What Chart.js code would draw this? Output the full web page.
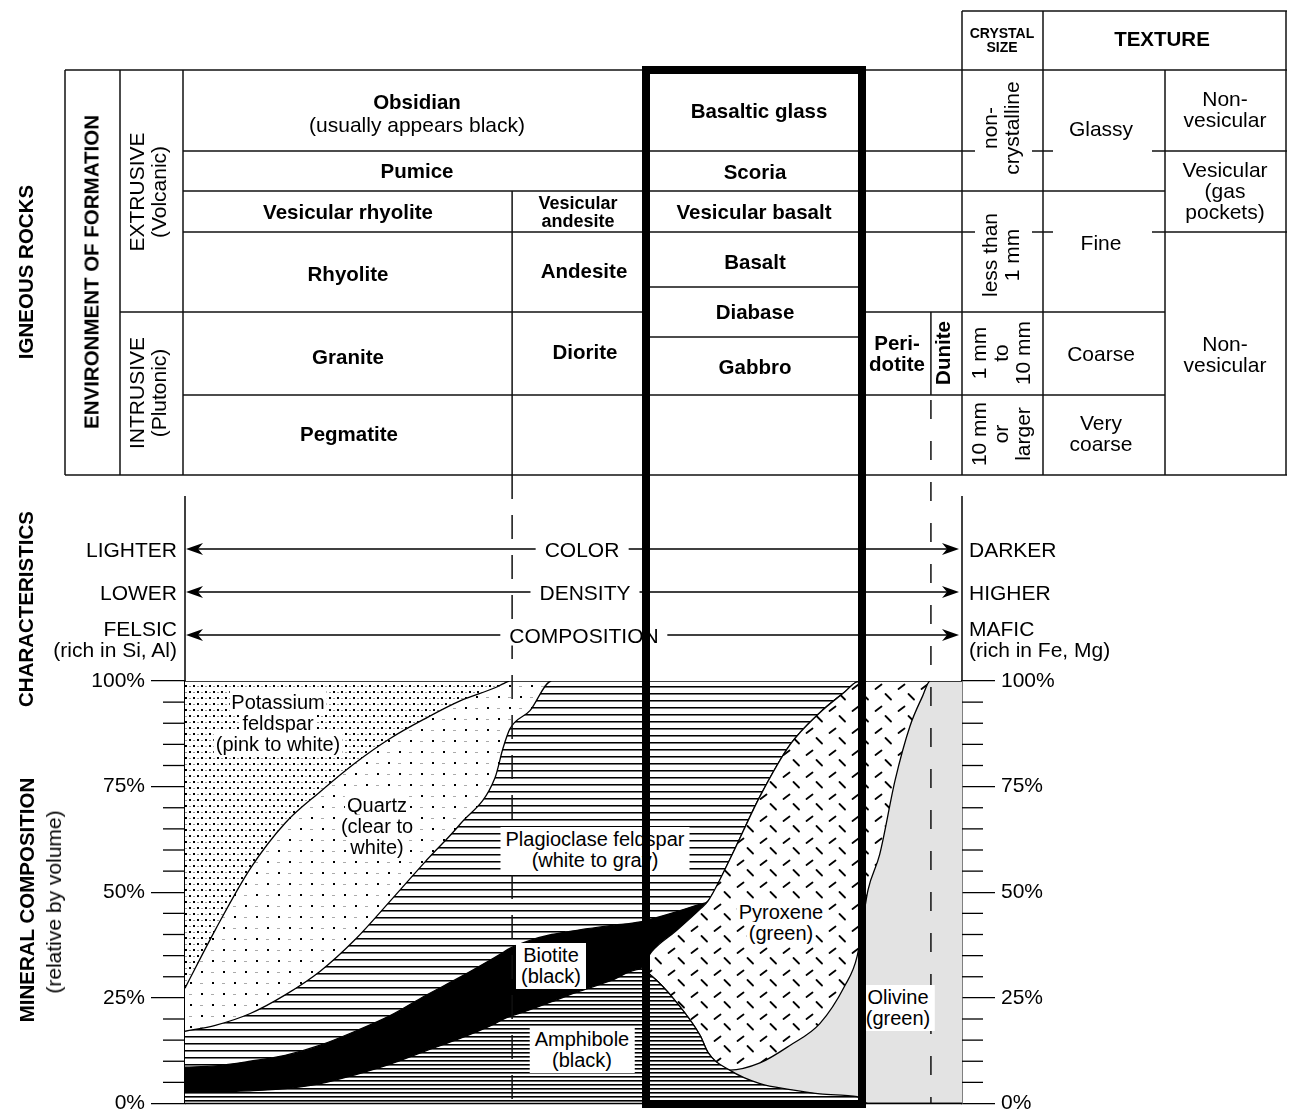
<!DOCTYPE html>
<html>
<head>
<meta charset="utf-8">
<title>Scheme for Igneous Rock Identification</title>
<script src="https://cdn.jsdelivr.net/npm/chart.js@4.4.1/dist/chart.umd.min.js"></script>
<style>
  body { margin: 0; background: #fff; }
  #wrap { position: relative; width: 1291px; height: 1120px; overflow: hidden;
          font-family: "Liberation Sans", Arial, Helvetica, sans-serif; color: #000; }
  #chart { position: absolute; left: 0; top: 0; }
  #box { position: absolute; border: 8px solid #000; box-sizing: border-box; z-index: 5; }
  .lbl { position: absolute; white-space: nowrap; text-align: center; font-size: 21px; line-height: 21px;
         transform: translate(-50%, -50%); }
  .b { font-weight: bold; font-size: 20.5px; }
  .bs { font-weight: bold; font-size: 18px; line-height: 18px; }
  .xs { font-weight: bold; font-size: 14px; line-height: 14px; }
  .bv { font-weight: bold; font-size: 20.5px; transform: translate(-50%, -50%) rotate(-90deg); }
  .nv { line-height: 22px; transform: translate(-50%, -50%) rotate(-90deg); }
  .right { text-align: right; line-height: 21px; transform: translate(-100%, -50%); }
  .left { text-align: left; line-height: 21px; transform: translate(0, -50%); }
  .gap { background: #fff; padding: 0 9px; }
  .halo { font-size: 20px; }
  .halo span { background: #fff; padding: 0 2px; }
  .box { background: #fff; padding: 2px 5px; font-size: 20px; }
</style>
</head>
<body>
<div id="wrap">
  <canvas id="chart" width="1291" height="1120"></canvas>
  <div id="box"></div>
</div>
<script>
// position along the felsic -> mafic scale (0 = left edge, 100 = right edge)
const composition = [0, 3.9, 8.4, 12.9, 17.4, 21.9, 26.4, 30.9, 35.4, 39.9, 40.9, 41.8, 44.4, 47.2,
  50.8, 54.7, 58.6, 60.1, 63.1, 66.3, 67.3, 70.1, 74.0, 77.9, 81.7, 84.9, 86.5, 87.9, 89.4, 91.4,
  93.3, 94.9, 95.9, 100];

// % by volume of each mineral, stacked bottom to top
const amphibole = [2.8, 2.8, 3.0, 3.5, 4.7, 6.8, 9.3, 12.4, 15.4, 18.9, 19.9, 20.6, 22.2, 24.1,
  26.6, 29.0, 31.8, 30.1, 24.3, 16.1, 12.1, 7.9, 4.7, 3.3, 2.3, 1.9, 1.6, 0, 0, 0, 0, 0, 0, 0];
const olivine = [0, 0, 0, 0, 0, 0, 0, 0, 0, 0, 0, 0, 0, 0, 0, 0, 0, 0, 0, 0, 0, 0,
  4.9, 10.5, 16.6, 25.9, 33.2, 50.5, 58.9, 76.6, 89.3, 96.3, 100, 100];
const pyroxene = [0, 0, 0, 0, 0, 0, 0, 0, 0, 0, 0, 0, 0, 0, 0, 0, 0,
  5.9, 16.4, 29.9, 35.8, 49.8, 63.1, 71.2, 73.6, 69.6, 65.0, 49.5, 41.1, 23.4, 10.7, 3.7, 0, 0];
const biotite = [5.8, 6.1, 7.0, 7.9, 9.1, 10.3, 11.5, 13.1, 14.5, 15.7, 15.8, 16.1, 16.4, 15.9,
  14.5, 13.1, 11.2, 7.7, 4.6, 1.2, 0, 0, 0, 0, 0, 0, 0, 0, 0, 0, 0, 0, 0, 0];
const plagioclase = [8.5, 9.6, 11.3, 14.3, 17.5, 21.7, 27.1, 31.7, 36.2, 42.5, 48.2, 51.9, 54.4,
  60.0, 58.9, 57.9, 57.0, 56.3, 54.7, 52.8, 52.1, 42.3, 27.3, 15.0, 7.5, 2.6, 0.2, 0, 0, 0, 0, 0, 0, 0];
const quartz = [10.2, 22.6, 34.3, 40.7, 42.5, 41.8, 38.5, 33.9, 29.2, 21.3, 15.4, 11.4, 7.0,
  0, 0, 0, 0, 0, 0, 0, 0, 0, 0, 0, 0, 0, 0, 0, 0, 0, 0, 0, 0, 0];
const potassiumFeldspar = [72.7, 58.9, 44.4, 33.6, 26.2, 19.4, 13.6, 8.9, 4.7, 1.6, 0.7,
  0, 0, 0, 0, 0, 0, 0, 0, 0, 0, 0, 0, 0, 0, 0, 0, 0, 0, 0, 0, 0, 0, 0];

const majorTicks = [0, 25, 50, 75, 100];
const minorTicks = [5, 10, 15, 20, 30, 35, 40, 45, 55, 60, 65, 70, 80, 85, 90, 95];

// rock column edges on the composition scale
const rockDividers = [42.1, 96.0];          // rhyolite|andesite, peridotite|dunite
const basaltColumn = [59.3, 87.1];          // outlined basalt / gabbro column

const tableLabels = [
  ['Obsidian', 417, 101, 'b'],
  ['(usually appears black)', 417, 124, ''],
  ['Pumice', 417, 170, 'b'],
  ['Vesicular rhyolite', 348, 211, 'b'],
  ['Vesicular\nandesite', 578, 212, 'bs'],
  ['Rhyolite', 348, 273, 'b'],
  ['Andesite', 584, 270, 'b'],
  ['Granite', 348, 356, 'b'],
  ['Diorite', 585, 351, 'b'],
  ['Pegmatite', 349, 433, 'b'],
  ['Basaltic glass', 759, 110, 'b'],
  ['Scoria', 755, 171, 'b'],
  ['Vesicular basalt', 754, 211, 'b'],
  ['Basalt', 755, 261, 'b'],
  ['Diabase', 755, 311, 'b'],
  ['Gabbro', 755, 366, 'b'],
  ['Peri-\ndotite', 897, 353, 'b'],
  ['Dunite', 942, 353, 'bv'],
  ['CRYSTAL\nSIZE', 1002, 40, 'xs'],
  ['TEXTURE', 1162, 38, 'b'],
  ['non-\ncrystalline', 1001, 128, 'nv'],
  ['less than\n1 mm', 1001, 255, 'nv'],
  ['1 mm\nto\n10 mm', 1001, 353, 'nv'],
  ['10 mm\nor\nlarger', 1001, 434, 'nv'],
  ['Glassy', 1101, 128, ''],
  ['Fine', 1101, 242, ''],
  ['Coarse', 1101, 353, ''],
  ['Very\ncoarse', 1101, 433, ''],
  ['Non-\nvesicular', 1225, 109, ''],
  ['Vesicular\n(gas\npockets)', 1225, 190, ''],
  ['Non-\nvesicular', 1225, 354, '']
];
const sideLabels = [
  ['IGNEOUS ROCKS', 25, 272, 'bv'],
  ['ENVIRONMENT OF FORMATION', 91, 272, 'bv'],
  ['EXTRUSIVE\n(Volcanic)', 148, 192, 'nv'],
  ['INTRUSIVE\n(Plutonic)', 148, 393, 'nv'],
  ['CHARACTERISTICS', 25, 609, 'bv'],
  ['MINERAL COMPOSITION', 26, 900, 'bv'],
  ['(relative by volume)', 54, 902, 'nv']
];
const characteristicLabels = [
  ['LIGHTER', 177, 549, 'right'],
  ['LOWER', 177, 592, 'right'],
  ['FELSIC\n(rich in Si, Al)', 177, 639, 'right'],
  ['DARKER', 969, 549, 'left'],
  ['HIGHER', 969, 592, 'left'],
  ['MAFIC\n(rich in Fe, Mg)', 969, 639, 'left'],
  ['COLOR', 582, 549, 'gap'],
  ['DENSITY', 585, 592, 'gap'],
  ['COMPOSITION', 584, 635, 'gap']
];
const mineralLabels = [
  ['Potassium\nfeldspar\n(pink to white)', 278, 723, 'halo'],
  ['Quartz\n(clear to\nwhite)', 377, 826, 'halo'],
  ['Plagioclase feldspar\n(white to gray)', 595, 850, 'box'],
  ['Biotite\n(black)', 551, 966, 'box'],
  ['Amphibole\n(black)', 582, 1050, 'box'],
  ['Pyroxene\n(green)', 781, 923, 'halo'],
  ['Olivine\n(green)', 898, 1008, 'box']
];
const arrowRows = [549, 592, 635];

const canvas = document.getElementById('chart');
const ctx = canvas.getContext('2d');

function makePattern(w, h, paint) {
  const c = document.createElement('canvas');
  c.width = w;
  c.height = h;
  const g = c.getContext('2d');
  g.fillStyle = '#fff';
  g.fillRect(0, 0, w, h);
  paint(g);
  return ctx.createPattern(c, 'repeat');
}

const feldsparFill = makePattern(8, 12, g => {
  g.fillStyle = '#000';
  g.fillRect(1, 1, 2, 2);
  g.fillRect(5, 7, 2, 2);
  g.fillStyle = '#999';
  g.fillRect(5, 2, 2, 1);
  g.fillRect(1, 8, 2, 1);
});
const quartzFill = makePattern(22, 22, g => {
  g.fillStyle = '#000';
  g.fillRect(3, 3, 2, 2);
  g.fillRect(14, 14, 2, 2);
  g.fillStyle = '#aaa';
  g.fillRect(13, 4, 3, 1);
  g.fillRect(2, 15, 3, 1);
});
const plagFill = makePattern(8, 7, g => {
  g.fillStyle = '#000';
  g.fillRect(0, 0, 8, 1);
  g.fillStyle = '#777';
  g.fillRect(0, 1, 8, 1);
});
const amphFill = makePattern(8, 4, g => {
  g.fillStyle = '#000';
  g.fillRect(0, 0, 8, 1);
  g.fillStyle = '#666';
  g.fillRect(0, 1, 8, 1);
});
const pyroxFill = makePattern(23, 22, g => {
  g.strokeStyle = '#000';
  g.lineWidth = 1.8;
  g.lineCap = 'round';
  g.beginPath(); g.moveTo(1.5, 7); g.lineTo(7.5, 2.5); g.stroke();
  g.beginPath(); g.moveTo(11.5, 12); g.lineTo(17, 17.5); g.stroke();
});

const series = [
  ['Amphibole', amphibole, amphFill, 'origin'],
  ['Olivine', olivine, '#e3e3e3', '-1'],
  ['Pyroxene', pyroxene, pyroxFill, '-1'],
  ['Biotite', biotite, '#000', '-1'],
  ['Plagioclase feldspar', plagioclase, plagFill, '-1'],
  ['Quartz', quartz, quartzFill, '-1'],
  ['Potassium feldspar', potassiumFeldspar, feldsparFill, '-1']
];

const tableRulesH = [
  [11, 962, 1287],
  [70, 65, 1287],
  [151, 183, 975], [151, 1032, 1053], [151, 1152, 1287],
  [191, 183, 1165],
  [232, 183, 975], [232, 1032, 1053], [232, 1152, 1287],
  [287, 646, 862],
  [312, 120, 646], [312, 862, 1165],
  [337, 646, 862],
  [395, 183, 1165],
  [475, 65, 1287]
];
const tableRulesV = [
  [65, 70, 475], [120, 70, 475], [183, 70, 475],
  [962, 11, 475], [1043, 11, 475], [1165, 70, 475], [1286, 11, 475]
];

const rockChartDecor = {
  id: 'rockChartDecor',
  afterDraw(chart) {
    const g = chart.ctx;
    const { left, right, top, bottom } = chart.chartArea;
    const xs = chart.scales.x;
    const ys = chart.scales.y;
    const seg = (x0, y0, x1, y1) => { g.beginPath(); g.moveTo(x0, y0); g.lineTo(x1, y1); g.stroke(); };
    g.save();
    g.strokeStyle = '#000';
    g.fillStyle = '#000';
    g.lineWidth = 1.3;
    minorTicks.forEach(v => {
      const py = ys.getPixelForValue(v);
      seg(left - 22, py, left, py);
      seg(right, py, right + 21, py);
    });
    g.lineWidth = 1.5;
    seg(left, bottom, right, bottom);
    seg(left, 496, left, top);
    seg(right, 496, right, top);

    // table rules
    g.strokeStyle = '#111';
    tableRulesH.forEach(([py, x0, x1]) => seg(x0, py, x1, py));
    tableRulesV.forEach(([px, y0, y1]) => seg(px, y0, px, y1));
    const andesiteX = xs.getPixelForValue(rockDividers[0]);
    const duniteX = xs.getPixelForValue(rockDividers[1]);
    seg(andesiteX, 191, andesiteX, 475);
    seg(duniteX, 312, duniteX, 395);
    g.setLineDash([24, 16]);
    seg(andesiteX, 475, andesiteX, bottom);
    g.setLineDash([19, 22]);
    seg(duniteX, 400, duniteX, bottom);
    g.setLineDash([]);

    // characteristic arrows
    g.strokeStyle = '#000';
    arrowRows.forEach(py => {
      seg(left + 4, py, right - 6, py);
      g.beginPath();
      g.moveTo(left + 1, py); g.lineTo(left + 18, py - 6); g.lineTo(left + 13, py); g.lineTo(left + 18, py + 6);
      g.closePath(); g.fill();
      g.beginPath();
      g.moveTo(right - 3, py); g.lineTo(right - 20, py - 6); g.lineTo(right - 15, py); g.lineTo(right - 20, py + 6);
      g.closePath(); g.fill();
    });
    g.restore();
  }
};

const font = { family: '"Liberation Sans", Arial, sans-serif', size: 21, lineHeight: 1 };

const chart = new Chart(canvas, {
  type: 'line',
  data: {
    datasets: series.map(([label, values, bg, fill]) => ({
      label,
      data: composition.map((x, i) => ({ x, y: values[i] })),
      backgroundColor: bg,
      fill,
      borderColor: '#000',
      borderWidth: 1.3,
      pointRadius: 0,
      cubicInterpolationMode: 'monotone'
    }))
  },
  options: {
    responsive: false,
    animation: false,
    devicePixelRatio: 1,
    layout: { padding: { top: 681, bottom: 11, left: 0, right: 0 } },
    plugins: { legend: { display: false }, tooltip: { enabled: false } },
    scales: {
      x: { type: 'linear', min: 0, max: 100, display: false },
      y: {
        stacked: true, min: 0, max: 100, position: 'left',
        afterFit: s => { s.width = 185; },
        afterBuildTicks: s => { s.ticks = majorTicks.map(value => ({ value })); },
        ticks: { color: '#000', font, padding: 6, callback: v => v + '%' },
        grid: { drawOnChartArea: false, tickLength: 34, color: '#000', lineWidth: 1.3 },
        border: { color: '#000', width: 1.5 }
      },
      y2: {
        min: 0, max: 100, position: 'right',
        afterFit: s => { s.width = 329; },
        afterBuildTicks: s => { s.ticks = majorTicks.map(value => ({ value })); },
        ticks: { color: '#000', font, padding: 6, callback: v => v + '%' },
        grid: { drawOnChartArea: false, tickLength: 33, color: '#000', lineWidth: 1.3 },
        border: { color: '#000', width: 1.5 }
      }
    }
  },
  plugins: [rockChartDecor]
});

// outlined basalt column, placed from the composition scale
const box = document.getElementById('box');
const bl = chart.scales.x.getPixelForValue(basaltColumn[0]);
const br = chart.scales.x.getPixelForValue(basaltColumn[1]);
box.style.left = (bl - 4) + 'px';
box.style.width = (br - bl + 8) + 'px';
box.style.top = '66px';
box.style.height = (chart.chartArea.bottom + 4 - 66) + 'px';

const wrap = document.getElementById('wrap');
function addLabels(list) {
  list.forEach(([text, x, y, kind]) => {
    const d = document.createElement('div');
    d.className = 'lbl ' + kind;
    d.style.left = x + 'px';
    d.style.top = y + 'px';
    d.innerHTML = text.split('\n')
      .map(s => kind === 'halo' ? '<span>' + s + '</span>' : s)
      .join('<br>');
    wrap.insertBefore(d, box);
  });
}
addLabels(tableLabels);
addLabels(sideLabels);
addLabels(characteristicLabels);
addLabels(mineralLabels);
</script>
</body>
</html>
